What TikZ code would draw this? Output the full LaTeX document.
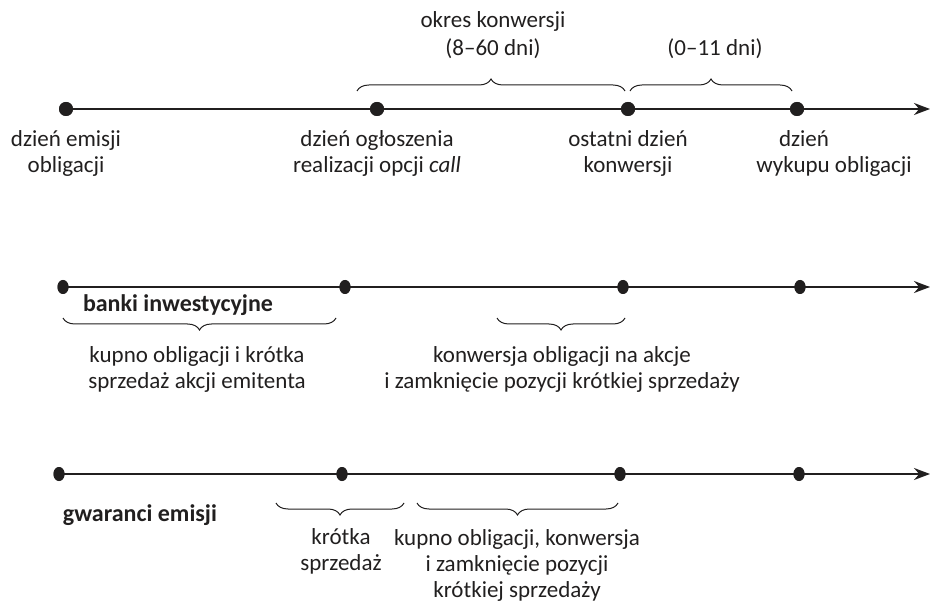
\documentclass[tikz,border=0pt]{standalone}
\usepackage{fontspec}
\setmainfont{Carlito}
\usetikzlibrary{arrows.meta,decorations.pathreplacing,positioning,shapes.geometric}
\definecolor{ink}{rgb}{0.13,0.12,0.12}

\tikzset{
  bigdot/.style={circle,fill=ink,inner sep=0pt,minimum size=14pt},
  smalldot/.style={ellipse,fill=ink,inner sep=0pt,minimum width=11pt,minimum height=14pt},
  axis/.style={ink,line width=1.8pt,-{Stealth[length=16pt,width=12pt]}},
  brc/.style={ink,decorate,decoration={brace,amplitude=12pt},line width=1pt},
  lbl/.style={ink,align=center,inner sep=0pt,font=\fontsize{23}{26}\selectfont},
  head/.style={lbl,font=\fontsize{24}{26}\selectfont\bfseries},
}

\begin{document}
\begin{tikzpicture}[x=1pt,y=-1pt]
\useasboundingbox (0,0) rectangle (931,609);

% first time line
\node[bigdot] (a0) at (66,109) {};
\node[bigdot] (a1) at (377,109) {};
\node[bigdot] (a2) at (628,109) {};
\node[bigdot] (a3) at (797,109) {};
\coordinate (aend) at (930,109);
\draw[axis] (a0.center) -- (aend);
\node[bigdot] at (a0) {};
\node[bigdot] at (a1) {};
\node[bigdot] at (a2) {};
\node[bigdot] at (a3) {};

\node[lbl] (emisja) at (66,153) {dzień emisji\\obligacji};
\node[lbl] (ogloszenie) at (377,153) {dzień ogłoszenia\\realizacji opcji \textit{call}};
\node[lbl] (ostatni) at (628,153) {ostatni dzień\\konwersji};
\node[lbl] (wykup) at (834,153) {dzień\hspace*{60pt}\\wykupu obligacji};

\coordinate (k0) at (357,91);
\coordinate (k1) at (625,91);
\coordinate (k2) at (630,91);
\coordinate (k3) at (792,91);
\draw[brc] (k0) -- (k1);
\draw[brc] (k2) -- (k3);
\node[lbl,font=\fontsize{23}{28}\selectfont] (okres) at (493,35) {okres konwersji\\(8--60 dni)};
\node[lbl] (wykupdni) at (715,49) {(0--11 dni)};

% second time line
\node[smalldot] (b0) at (63,287) {};
\node[smalldot] (b1) at (345,287) {};
\node[smalldot] (b2) at (623,287) {};
\node[smalldot] (b3) at (800,287) {};
\coordinate (bend) at (930,287);
\draw[axis] (b0.center) -- (bend);
\node[smalldot] at (b0) {};
\node[smalldot] at (b1) {};
\node[smalldot] at (b2) {};
\node[smalldot] at (b3) {};

\node[head] (banki) at (178,305) {banki inwestycyjne};
\coordinate (m0) at (336,318);
\coordinate (m1) at (63,318);
\coordinate (m2) at (625,318);
\coordinate (m3) at (497,318);
\draw[brc] (m0) -- (m1);
\draw[brc] (m2) -- (m3);
\node[lbl] (kupno) at (197,369) {kupno obligacji i krótka\\sprzedaż akcji emitenta};
\node[lbl] (konwersja) at (562,369) {konwersja obligacji na akcje\\i zamknięcie pozycji krótkiej sprzedaży};

% third time line
\node[smalldot] (c0) at (59,474) {};
\node[smalldot] (c1) at (342,474) {};
\node[smalldot] (c2) at (620,474) {};
\node[smalldot] (c3) at (799,474) {};
\coordinate (cend) at (930,474);
\draw[axis] (c0.center) -- (cend);
\node[smalldot] at (c0) {};
\node[smalldot] at (c1) {};
\node[smalldot] at (c2) {};
\node[smalldot] at (c3) {};

\node[head] (gwaranci) at (140,515) {gwaranci emisji};
\coordinate (g0) at (404,503);
\coordinate (g1) at (276,503);
\coordinate (g2) at (618,503);
\coordinate (g3) at (417,503);
\draw[brc] (g0) -- (g1);
\draw[brc] (g2) -- (g3);
\node[lbl] (krotka) at (341,551) {krótka\\sprzedaż};
\node[lbl] (zamkniecie) at (517,565) {kupno obligacji, konwersja\\i zamknięcie pozycji\\krótkiej sprzedaży};

\end{tikzpicture}
\end{document}
